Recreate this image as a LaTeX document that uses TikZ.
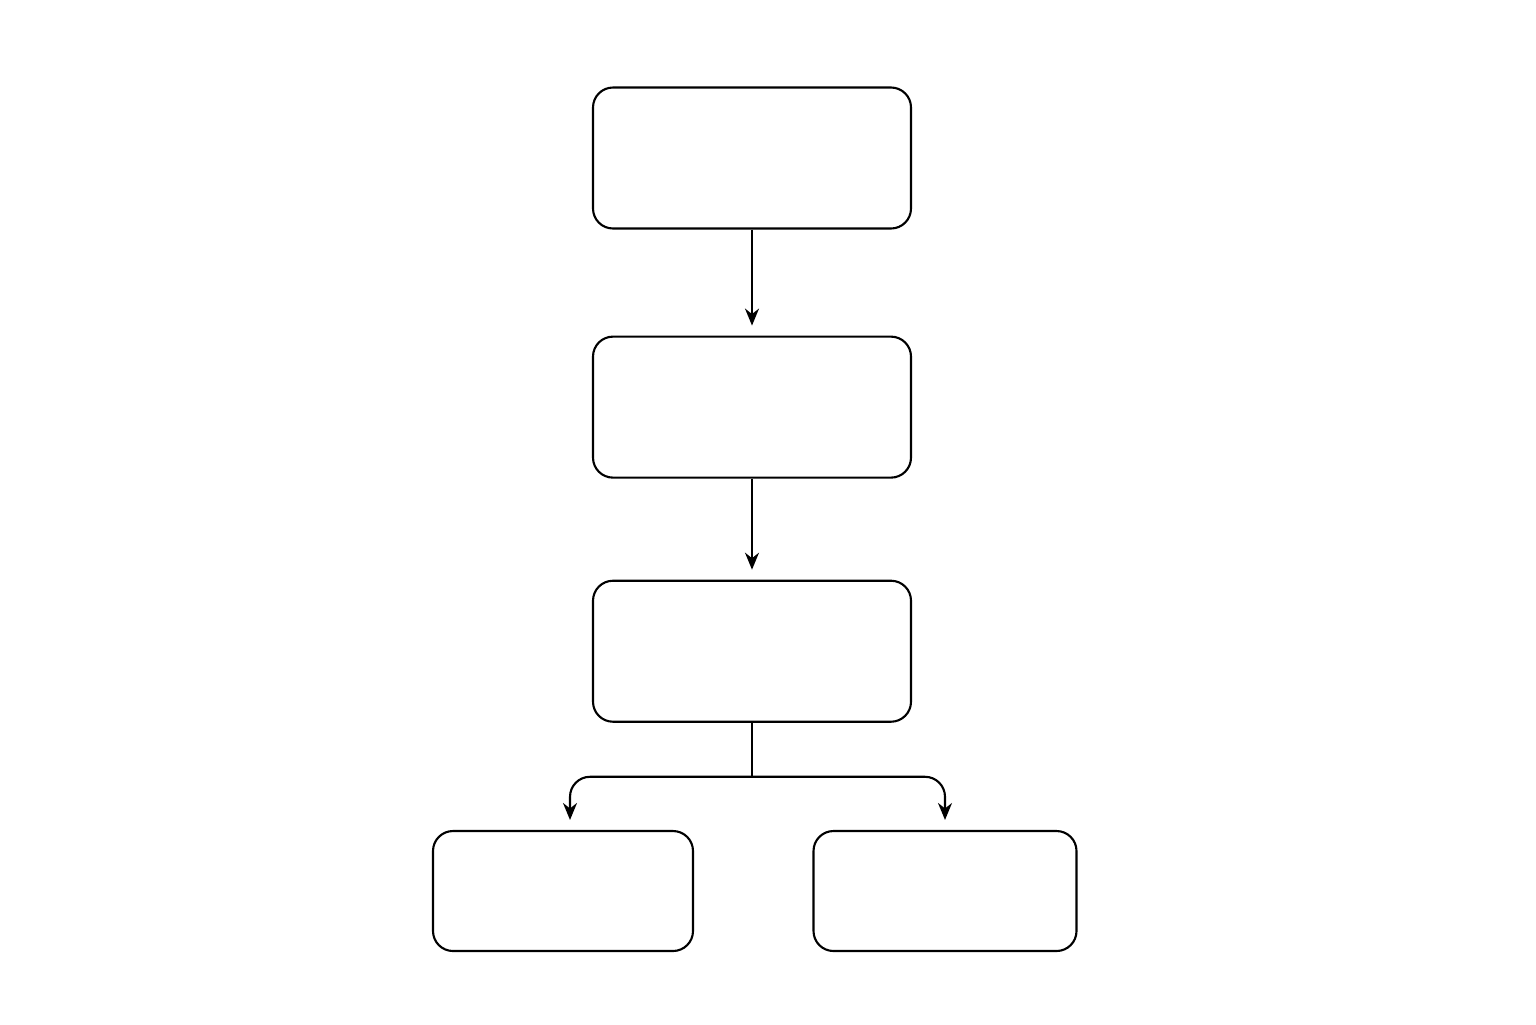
\documentclass[tikz,border=0pt]{standalone}
\usepackage{amssymb}
\usepackage{amsmath}
\usepackage{tikz}
\usetikzlibrary{arrows.meta,positioning}

\begin{document}
\begin{tikzpicture}[->,>={Stealth[length=0.17cm,width=0.14cm]},shorten >=0.1cm,semithick,
                    every text node part/.style={align=center}]
  \tikzstyle{every node}=[draw=black,fill=none,rounded corners=0.2cm,inner sep=0pt]
  \tikzstyle{big box}=[minimum width=3.18cm,minimum height=1.41cm]
  \tikzstyle{small box}=[minimum width=2.6cm,minimum height=1.2cm]

  \useasboundingbox (0,0) rectangle (15.36,-10.24);

  \node[big box] (A) at (7.52,-1.58) {};
  \node[big box] (B) [below=1.06cm of A] {};
  \node[big box] (C) [below=1.01cm of B] {};
  \node[small box] (D) at (5.63,-8.91) {};
  \node[small box,minimum width=2.63cm] (E) at (9.45,-8.91) {};
  \coordinate (split) at ([yshift=-0.54cm]C.south);

  \path (A) edge (B)
        (B) edge (C);
  \draw[-,shorten >=0pt] (C.south) -- (split);
  \draw[rounded corners=0.2cm] (split) -| ([xshift=0.07cm]D.north);
  \draw[rounded corners=0.2cm] (split) -| (E.north);
\end{tikzpicture}
\end{document}
